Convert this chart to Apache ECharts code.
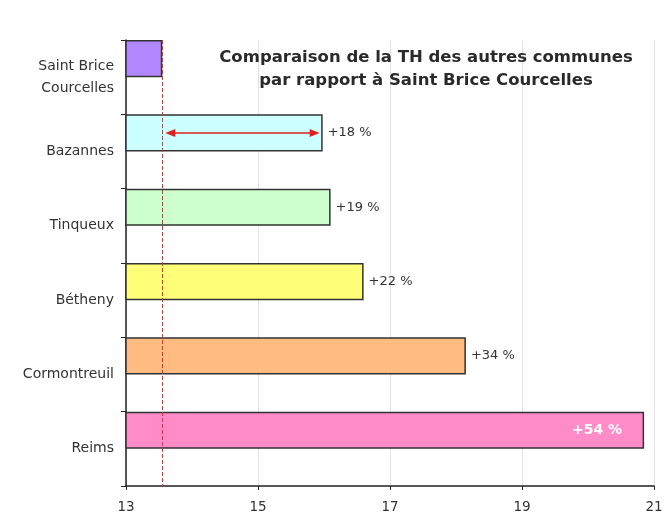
<!DOCTYPE html>
<html>
<head>
<meta charset="utf-8">
<script src="https://cdn.jsdelivr.net/npm/echarts@6/dist/echarts.min.js"></script>
<style>
html, body { margin: 0; padding: 0; background: #fff; }
#chart { width: 667px; height: 516px; }
</style>
</head>
<body>
<div id="chart"></div>
<script>
// communes, du haut vers le bas
var communes = ['Saint Brice\nCourcelles', 'Bazannes', 'Tinqueux', 'Bétheny', 'Cormontreuil', 'Reims'];
var taux = [13.55, 15.98, 16.1, 16.6, 18.15, 20.85];
var ecarts = ['', '+18 %', '+19 %', '+22 %', '+34 %', '+54 %'];
var couleurs = ['#b387ff', '#ccffff', '#ccffcc', '#ffff78', '#ffbb80', '#ff8cc8'];

var ref = taux[0];
var police = 'DejaVu Sans';

var barData = [];
for (var i = 0; i < taux.length; ++i) {
    var lbl = { show: ecarts[i] !== '', formatter: ecarts[i], position: 'right', distance: 5, color: '#333', fontSize: 13, fontFamily: police };
    if (i == taux.length - 1) {
        lbl.position = 'insideRight';
        lbl.color = '#fff';
        lbl.fontSize = 14;
        lbl.fontWeight = 'bold';
        lbl.distance = 22;
    }
    barData.push({ value: taux[i], itemStyle: { color: couleurs[i] }, label: lbl });
}

// flèche rouge entre Saint Brice et Bazannes, dans la moitié haute de la bande
function fleche(params, api) {
    var a = api.coord([api.value(0), 1]);
    var b = api.coord([api.value(1), 1]);
    var band = api.size([0, 1])[1];
    var y = a[1] - band / 4;
    var x1 = a[0] + 3, x2 = b[0] - 3, h = 4, w = 10;
    var rouge = '#e02020';
    return {
        type: 'group',
        children: [
            { type: 'line', shape: { x1: x1 + 4, y1: y, x2: x2 - 4, y2: y }, style: { stroke: rouge, lineWidth: 1.5 } },
            { type: 'polygon', shape: { points: [[x1, y], [x1 + w, y - h], [x1 + w, y + h]] }, style: { fill: rouge } },
            { type: 'polygon', shape: { points: [[x2, y], [x2 - w, y - h], [x2 - w, y + h]] }, style: { fill: rouge } }
        ]
    };
}

var myChart = echarts.init(document.getElementById('chart'));

var option = {
    animation: false,
    backgroundColor: '#fff',
    title: {
        text: 'Comparaison de la TH des autres communes\npar rapport à Saint Brice Courcelles',
        left: 421,
        top: 41,
        textAlign: 'center',
        textStyle: { fontSize: 16.5, fontWeight: 'bold', color: '#2a2a2a', lineHeight: 23, fontFamily: police }
    },
    grid: { left: 126, right: 13, top: 40, bottom: 30 },
    xAxis: {
        type: 'value',
        min: 13,
        max: 21,
        interval: 2,
        axisLine: { show: true, lineStyle: { color: '#222', width: 1.5 } },
        axisTick: { show: true, length: 4, lineStyle: { color: '#222' } },
        axisLabel: { color: '#333', fontSize: 13.5, margin: 14, fontFamily: police },
        splitLine: { show: true, lineStyle: { color: '#e3e3e3' } }
    },
    yAxis: {
        type: 'category',
        inverse: true,
        data: communes,
        axisLine: { show: true, lineStyle: { color: '#222', width: 1.5 } },
        axisTick: { show: true, length: 5, lineStyle: { color: '#222' } },
        axisLabel: { color: '#333', fontSize: 14, margin: 12, lineHeight: 22, fontFamily: police }
    },
    series: [{
        name: 'TH',
        type: 'bar',
        data: barData,
        barGap: '0%',
        barCategoryGap: '0%',
        itemStyle: { borderColor: '#333', borderWidth: 1.5 },
        markLine: {
            silent: true,
            symbol: 'none',
            label: { show: false },
            lineStyle: { color: '#e03030', type: 'dashed', width: 1 },
            data: [{ xAxis: ref }]
        }
    }, {
        name: 'vide',
        type: 'bar',
        data: [0, 0, 0, 0, 0, 0],
        barGap: '0%',
        barCategoryGap: '0%'
    }, {
        name: 'fleche',
        type: 'custom',
        coordinateSystem: 'cartesian2d',
        data: [[ref, taux[1], 'Bazannes']],
        encode: { x: [0, 1], y: 2 },
        clip: false,
        z: 5,
        renderItem: fleche
    }]
};

myChart.setOption(option);
</script>
</body>
</html>
